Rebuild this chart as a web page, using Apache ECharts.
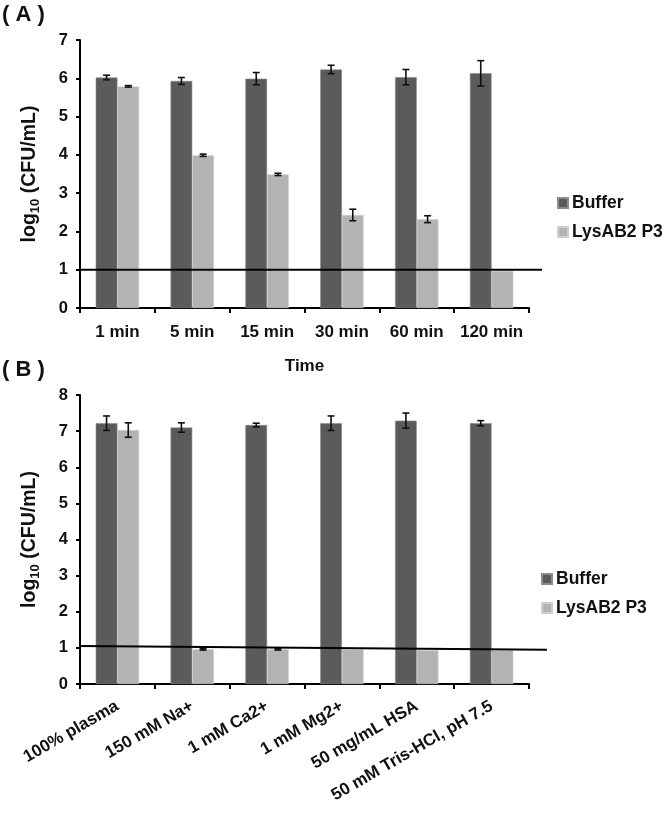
<!DOCTYPE html>
<html><head><meta charset="utf-8">
<script src="https://cdn.jsdelivr.net/npm/echarts@6/dist/echarts.min.js"></script>
<style>html,body{margin:0;padding:0;background:#fff}#c{width:666px;height:813px}</style>
</head><body><div id="c"></div>
<script>
const timeCats = ['1 min','5 min','15 min','30 min','60 min','120 min'];
const bufferA = [6.02,5.93,5.99,6.23,6.03,6.13];
const bufferAErr = [0.06,0.09,0.16,0.11,0.2,0.33];
const lysA = [5.79,3.99,3.49,2.43,2.32,0.97];
const lysAErr = [0.02,0.03,0.03,0.15,0.09,0];
const condCats = ['100% plasma','150 mM Na+','1 mM Ca2+','1 mM Mg2+','50 mg/mL HSA','50 mM Tris-HCl, pH 7.5'];
const bufferB = [7.22,7.10,7.17,7.22,7.29,7.22];
const bufferBErr = [0.2,0.13,0.05,0.2,0.21,0.07];
const lysB = [7.03,0.96,0.96,0.96,0.94,0.94];
const lysBErr = [0.2,0.02,0.02,0,0,0];
const limitA = [1,1];
const limitB = [1.05,0.95];
const yTicksA = [0,1,2,3,4,5,6,7];
const yTicksB = [0,1,2,3,4,5,6,7,8];

const FONT = '"Liberation Sans", Arial, sans-serif';
const DARK = '#5b5b5b', LIGHT = '#b3b3b3';
const BW = 0.29;

function errSeries(vals, errs, side, xi, yi) {
  return {
    type: 'custom', xAxisIndex: xi, yAxisIndex: yi, z: 10, silent: true,
    data: vals.map((v, i) => [i, v, errs[i], side]),
    renderItem: function (params, api) {
      const x = api.value(0), v = api.value(1), e = api.value(2), s = api.value(3);
      if (!e) return null;
      const band = api.size([1, 0])[0];
      const c = api.coord([x, v]);
      const cx = c[0] + s * band * BW / 2;
      const t = api.coord([x, v + e])[1];
      const b = api.coord([x, v - e])[1];
      const h = 3.5;
      const st = { stroke: '#111', lineWidth: 1.6 };
      return { type: 'group', children: [
        { type: 'line', shape: { x1: cx, y1: t, x2: cx, y2: b }, style: st },
        { type: 'line', shape: { x1: cx - h, y1: t, x2: cx + h, y2: t }, style: st },
        { type: 'line', shape: { x1: cx - h, y1: b, x2: cx + h, y2: b }, style: st }
      ]};
    }
  };
}

const axisLine = { show: true, lineStyle: { color: '#000', width: 2 } };
const yName = '{a|log}{s|10}{a| (CFU/mL)}';
const yNameStyle = { rich: {
  a: { fontFamily: FONT, fontWeight: 'bold', fontSize: 19.5, color: '#111', lineHeight: 24 },
  s: { fontFamily: FONT, fontWeight: 'bold', fontSize: 13, color: '#111', lineHeight: 24, verticalAlign: 'bottom', padding: [7, 0, 0, 0] }
}};
const tickLbl = { fontFamily: FONT, fontWeight: 'bold', fontSize: 16.5, color: '#111' };
const catLbl = { fontFamily: FONT, fontWeight: 'bold', fontSize: 17, color: '#111' };
const legText = { fontFamily: FONT, fontWeight: 'bold', fontSize: 17.5, color: '#111', padding: [0,0,0,-1] };

const chart = echarts.init(document.getElementById('c'));
chart.setOption({
  animation: false,
  backgroundColor: '#fff',
  title: [
    { text: '( A )', left: 2, top: 4, padding: 0, textStyle: { fontFamily: FONT, fontWeight: 'bold', fontSize: 22, color: '#111' } },
    { text: '( B )', left: 2, top: 359, padding: 0, textStyle: { fontFamily: FONT, fontWeight: 'bold', fontSize: 22, color: '#111' } }
  ],
  legend: [
    { data: ['Buffer', 'LysAB2 P3'], orient: 'vertical', left: 557, top: 194, padding: 0, itemWidth: 10, itemHeight: 10, itemGap: 11, icon: 'rect',
      textStyle: legText },
    { data: ['Buffer', 'LysAB2 P3'], orient: 'vertical', left: 541, top: 570, padding: 0, itemWidth: 10, itemHeight: 10, itemGap: 11, icon: 'rect',
      textStyle: legText }
  ],
  grid: [
    { left: 80, right: 137, top: 40, bottom: 505 },
    { left: 80, right: 137, top: 395, bottom: 129 },
    { left: 80, right: 124, top: 40, bottom: 505 },
    { left: 80, right: 119, top: 395, bottom: 129 }
  ],
  xAxis: [
    { type: 'category', gridIndex: 0, data: timeCats, axisLine: axisLine,
      axisTick: { show: true, length: 5, lineStyle: { color: '#000', width: 2 } },
      axisLabel: Object.assign({ margin: 16, interval: 0 }, catLbl),
      name: 'Time', nameLocation: 'middle', nameGap: 50,
      nameTextStyle: { fontFamily: FONT, fontWeight: 'bold', fontSize: 17, color: '#111' } },
    { type: 'category', gridIndex: 1, data: condCats, axisLine: axisLine,
      axisTick: { show: true, length: 5, lineStyle: { color: '#000', width: 2 } },
      axisLabel: Object.assign({ margin: 21, interval: 0, rotate: 30 }, catLbl) },
    { type: 'value', gridIndex: 2, min: 0, max: 1, show: false },
    { type: 'value', gridIndex: 3, min: 0, max: 1, show: false }
  ],
  yAxis: [
    { type: 'value', gridIndex: 0, min: yTicksA[0], max: yTicksA[yTicksA.length - 1], interval: 1, axisLine: axisLine,
      axisTick: { show: true, length: 4, lineStyle: { color: '#000', width: 2 } },
      splitLine: { show: false }, axisLabel: Object.assign({ margin: 12 }, tickLbl),
      name: yName, nameLocation: 'middle', nameGap: 38, nameTextStyle: yNameStyle },
    { type: 'value', gridIndex: 1, min: yTicksB[0], max: yTicksB[yTicksB.length - 1], interval: 1, axisLine: axisLine,
      axisTick: { show: true, length: 4, lineStyle: { color: '#000', width: 2 } },
      splitLine: { show: false }, axisLabel: Object.assign({ margin: 12 }, tickLbl),
      name: yName, nameLocation: 'middle', nameGap: 38, nameTextStyle: yNameStyle },
    { type: 'value', gridIndex: 2, min: yTicksA[0], max: yTicksA[yTicksA.length - 1], show: false },
    { type: 'value', gridIndex: 3, min: yTicksB[0], max: yTicksB[yTicksB.length - 1], show: false }
  ],
  series: [
    { name: 'Buffer', type: 'bar', xAxisIndex: 0, yAxisIndex: 0, data: bufferA, barWidth: (BW*100)+'%', barGap: '0%',
      itemStyle: { color: DARK, borderColor: '#8c8c8c', borderWidth: 0.6 } },
    { name: 'LysAB2 P3', type: 'bar', xAxisIndex: 0, yAxisIndex: 0, data: lysA, barWidth: (BW*100)+'%', barGap: '0%',
      itemStyle: { color: LIGHT, borderColor: '#d0d0d0', borderWidth: 0.6 } },
    { name: 'Buffer', type: 'bar', xAxisIndex: 1, yAxisIndex: 1, data: bufferB, barWidth: (BW*100)+'%', barGap: '0%',
      itemStyle: { color: DARK, borderColor: '#8c8c8c', borderWidth: 0.6 } },
    { name: 'LysAB2 P3', type: 'bar', xAxisIndex: 1, yAxisIndex: 1, data: lysB, barWidth: (BW*100)+'%', barGap: '0%',
      itemStyle: { color: LIGHT, borderColor: '#d0d0d0', borderWidth: 0.6 } },
    errSeries(bufferA, bufferAErr, -1, 0, 0),
    errSeries(lysA, lysAErr, 1, 0, 0),
    errSeries(bufferB, bufferBErr, -1, 1, 1),
    errSeries(lysB, lysBErr, 1, 1, 1),
    { type: 'line', xAxisIndex: 2, yAxisIndex: 2, data: limitA.map((v, i) => [i, v]), symbol: 'none', z: 20, silent: true,
      lineStyle: { color: '#000', width: 2 } },
    { type: 'line', xAxisIndex: 3, yAxisIndex: 3, data: limitB.map((v, i) => [i, v]), symbol: 'none', z: 20, silent: true,
      lineStyle: { color: '#000', width: 2 } }
  ]
});
</script></body></html>
